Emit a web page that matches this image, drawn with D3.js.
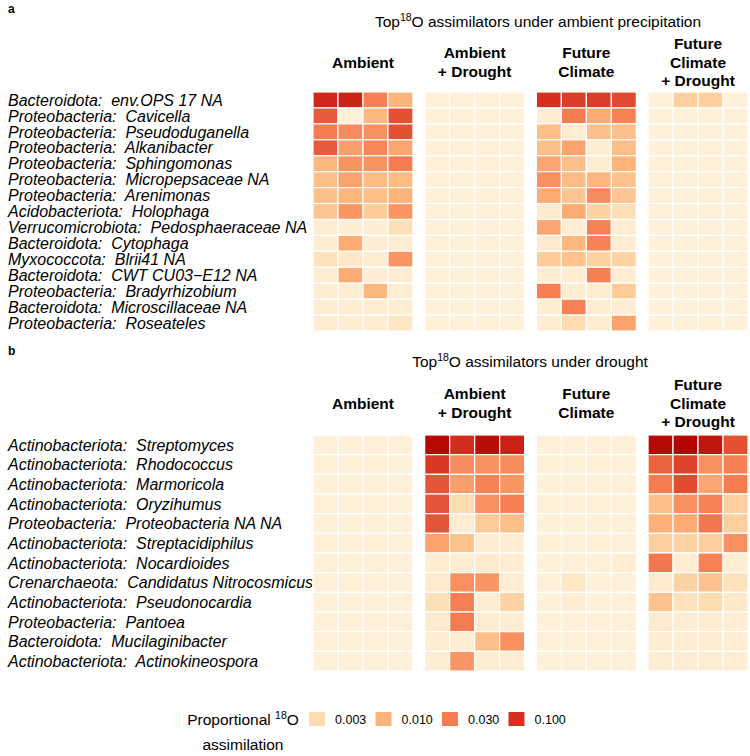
<!DOCTYPE html>
<html><head><meta charset="utf-8">
<script src="https://cdn.jsdelivr.net/npm/d3@7"></script>
<style>body{margin:0;background:#fff}text{font-family:"Liberation Sans",Arial,sans-serif}</style>
</head><body><svg id="c" width="750" height="756"></svg>
<script>
const treatments = ["Ambient", "Ambient + Drought", "Future Climate", "Future Climate + Drought"];
const headerLines = [["Ambient"], ["Ambient", "+ Drought"], ["Future", "Climate"], ["Future", "Climate", "+ Drought"]];
const reps = ["1", "2", "3", "4"];

const taxaA = [
 ["Bacteroidota", "env.OPS 17 NA"], ["Proteobacteria", "Cavicella"], ["Proteobacteria", "Pseudoduganella"],
 ["Proteobacteria", "Alkanibacter"], ["Proteobacteria", "Sphingomonas"], ["Proteobacteria", "Micropepsaceae NA"],
 ["Proteobacteria", "Arenimonas"], ["Acidobacteriota", "Holophaga"], ["Verrucomicrobiota", "Pedosphaeraceae NA"],
 ["Bacteroidota", "Cytophaga"], ["Myxococcota", "Blrii41 NA"], ["Bacteroidota", "CWT CU03\u2212E12 NA"],
 ["Proteobacteria", "Bradyrhizobium"], ["Bacteroidota", "Microscillaceae NA"], ["Proteobacteria", "Roseateles"]
];
const aAmbient = [
 [0.12,0.13,0.028,0.010],[0.05,0.001,0.009,0.06],[0.03,0.022,0.02,0.06],[0.05,0.015,0.024,0.013],
 [0.009,0.019,0.019,0.03],[0.007,0.014,0.008,0.008],[0.007,0.0095,0.0075,0.010],[0.006,0.018,0.005,0.018],
 [0.0012,0.0011,0.0011,0.0025],[0.0012,0.012,0.0011,0.0012],[0.0022,0.0016,0.0012,0.018],[0.0012,0.012,0.0011,0.0012],
 [0.0012,0.0012,0.009,0.0012],[0.0012,0.0012,0.0012,0.0012],[0.0012,0.0012,0.0012,0.0018]
];
const aAmbDrought = [
 [0.001,0.001,0.001,0.001],[0.001,0.001,0.001,0.001],[0.001,0.001,0.001,0.001],[0.001,0.001,0.001,0.001],
 [0.001,0.001,0.001,0.001],[0.001,0.001,0.001,0.001],[0.001,0.001,0.001,0.001],[0.001,0.001,0.001,0.001],
 [0.001,0.001,0.001,0.001],[0.001,0.001,0.001,0.001],[0.001,0.001,0.001,0.001],[0.001,0.001,0.001,0.001],
 [0.001,0.001,0.001,0.001],[0.001,0.001,0.001,0.001],[0.001,0.001,0.001,0.001]
];
const aFuture = [
 [0.10,0.08,0.08,0.065],[0.0012,0.03,0.012,0.026],[0.0075,0.0012,0.007,0.007],[0.007,0.014,0.0012,0.0075],
 [0.013,0.007,0.0012,0.010],[0.02,0.008,0.0095,0.0065],[0.012,0.006,0.022,0.006],[0.0013,0.012,0.004,0.0025],
 [0.013,0.0012,0.026,0.0012],[0.0013,0.009,0.026,0.0012],[0.005,0.0065,0.004,0.004],[0.0012,0.0012,0.028,0.0012],
 [0.028,0.0012,0.0012,0.005],[0.0012,0.026,0.0012,0.0012],[0.0012,0.003,0.0012,0.014]
];
const aFutureDrought = [
 [0.001,0.0045,0.0045,0.001],[0.001,0.001,0.001,0.001],[0.001,0.001,0.001,0.001],[0.001,0.001,0.001,0.001],
 [0.001,0.001,0.001,0.001],[0.001,0.001,0.001,0.001],[0.001,0.001,0.001,0.001],[0.001,0.001,0.001,0.001],
 [0.001,0.001,0.001,0.001],[0.001,0.001,0.001,0.001],[0.001,0.001,0.001,0.001],[0.001,0.001,0.001,0.001],
 [0.001,0.001,0.001,0.001],[0.001,0.001,0.001,0.001],[0.001,0.001,0.001,0.001]
];

const taxaB = [
 ["Actinobacteriota", "Streptomyces"], ["Actinobacteriota", "Rhodococcus"], ["Actinobacteriota", "Marmoricola"],
 ["Actinobacteriota", "Oryzihumus"], ["Proteobacteria", "Proteobacteria NA NA"], ["Actinobacteriota", "Streptacidiphilus"],
 ["Actinobacteriota", "Nocardioides"], ["Crenarchaeota", "Candidatus Nitrocosmicus"], ["Actinobacteriota", "Pseudonocardia"],
 ["Proteobacteria", "Pantoea"], ["Bacteroidota", "Mucilaginibacter"], ["Actinobacteriota", "Actinokineospora"]
];
const bAmbient = [
 [0.001,0.001,0.001,0.001],[0.001,0.001,0.001,0.001],[0.001,0.001,0.001,0.001],[0.001,0.001,0.001,0.001],
 [0.001,0.001,0.001,0.001],[0.001,0.001,0.001,0.001],[0.001,0.001,0.001,0.001],[0.001,0.001,0.001,0.001],
 [0.001,0.001,0.001,0.001],[0.001,0.001,0.001,0.001],[0.001,0.001,0.001,0.001],[0.001,0.001,0.001,0.001]
];
const bAmbDrought = [
 [0.25,0.11,0.22,0.14],[0.09,0.022,0.02,0.022],[0.055,0.015,0.026,0.018],[0.055,0.003,0.02,0.027],
 [0.055,0.0012,0.005,0.007],[0.014,0.0065,0.0012,0.0012],[0.0012,0.0012,0.0013,0.0012],[0.0013,0.02,0.018,0.0012],
 [0.0025,0.028,0.0012,0.004],[0.0013,0.03,0.0012,0.0012],[0.0012,0.0012,0.007,0.02],[0.0012,0.018,0.0012,0.0012]
];
const bFuture = [
 [0.001,0.001,0.001,0.001],[0.001,0.001,0.001,0.001],[0.001,0.001,0.001,0.001],[0.001,0.001,0.001,0.001],
 [0.001,0.001,0.001,0.001],[0.001,0.001,0.001,0.001],[0.001,0.001,0.001,0.0012],[0.001,0.0016,0.001,0.001],
 [0.001,0.0012,0.001,0.001],[0.001,0.001,0.001,0.001],[0.001,0.001,0.001,0.001],[0.001,0.001,0.001,0.001]
];
const bFutureDrought = [
 [0.25,0.27,0.18,0.06],[0.045,0.075,0.02,0.028],[0.03,0.065,0.013,0.03],[0.0075,0.02,0.026,0.0045],
 [0.011,0.012,0.032,0.0045],[0.0045,0.004,0.0045,0.02],[0.032,0.0012,0.026,0.0012],[0.0014,0.004,0.0065,0.0022],
 [0.0065,0.0022,0.003,0.0015],[0.0013,0.0012,0.0012,0.0012],[0.0012,0.0012,0.0012,0.0012],[0.0012,0.0012,0.0012,0.0012]
];

const legendValues = [0.003, 0.010, 0.030, 0.100];
const legendLabels = ["0.003", "0.010", "0.030", "0.100"];

const color = d3.scaleLog()
  .domain([0.001, 0.003, 0.01, 0.03, 0.1, 0.3])
  .range(["#FEF0D9", "#FDDDB0", "#FDB47A", "#F57B51", "#D5301F", "#B00000"])
  .interpolate(d3.interpolateRgb).clamp(true);

const svg = d3.select("#c");
const xT = d3.scaleBand().domain(treatments).range([313, 748]).paddingInner(0.105);
const xR = d3.scaleBand().domain(reps).range([0, xT.bandwidth()]);

function panel(cfg) {
  const g = svg.append("g");
  g.append("text").attr("x", 8).attr("y", cfg.letterY).attr("font-size", 12).attr("font-weight", "bold").text(cfg.letter);
  const t = g.append("text").attr("x", cfg.titleX).attr("y", cfg.titleY).attr("text-anchor", "middle").attr("font-size", 15.5);
  t.append("tspan").text("Top");
  t.append("tspan").attr("font-size", 10.5).attr("dy", -6).text("18");
  t.append("tspan").attr("dy", 6).text("O assimilators under " + cfg.titleTail);

  treatments.forEach((tr, i) => {
    const lines = headerLines[i];
    const cx = xT(tr) + xT.bandwidth() / 2;
    lines.forEach((ln, j) => {
      g.append("text").attr("x", cx)
        .attr("y", cfg.headerMid + (j - (lines.length - 1) / 2) * 18.5 + 5.5)
        .attr("text-anchor", "middle").attr("font-size", 15.5).attr("font-weight", "bold").text(ln);
    });
  });

  const y = d3.scaleBand().domain(cfg.taxa.map(d => d[1])).range(cfg.yRange);
  cfg.taxa.forEach((tx, r) => {
    g.append("text").attr("x", 8).attr("y", y(tx[1]) + y.bandwidth() / 2 + 5.7)
      .attr("font-size", 16).attr("font-style", "italic").style("white-space", "pre")
      .text(tx[0] + ":  " + tx[1]);
  });
  cfg.series.forEach((ser, i) => {
    const tr = treatments[i];
    ser.forEach((row, r) => {
      row.forEach((v, k) => {
        g.append("rect")
          .attr("x", xT(tr) + xR(reps[k])).attr("y", y(cfg.taxa[r][1]))
          .attr("width", xR.bandwidth()).attr("height", y.bandwidth())
          .attr("fill", color(v)).attr("stroke", "#fff").attr("stroke-width", 1.2);
      });
    });
  });
}

panel({letter: "a", letterY: 13, titleX: 538, titleY: 27, titleTail: "ambient precipitation",
  headerMid: 62, taxa: taxaA, yRange: [92, 331], series: [aAmbient, aAmbDrought, aFuture, aFutureDrought]});
panel({letter: "b", letterY: 355, titleX: 530, titleY: 367, titleTail: "drought",
  headerMid: 403, taxa: taxaB, yRange: [435, 671], series: [bAmbient, bAmbDrought, bFuture, bFutureDrought]});

// legend
const lg = svg.append("g");
const lt = lg.append("text").attr("x", 243).attr("y", 725).attr("text-anchor", "middle").attr("font-size", 15.5);
lt.append("tspan").text("Proportional ");
lt.append("tspan").attr("font-size", 10.5).attr("dy", -6).text("18");
lt.append("tspan").attr("dy", 6).text("O");
lg.append("text").attr("x", 243).attr("y", 750).attr("text-anchor", "middle").attr("font-size", 15.5).text("assimilation");
const lx = d3.scaleBand().domain(legendLabels).range([309, 575]);
legendValues.forEach((v, i) => {
  const x0 = lx(legendLabels[i]);
  lg.append("rect").attr("x", x0).attr("y", 712).attr("width", 16).attr("height", 14).attr("fill", color(v));
  lg.append("text").attr("x", x0 + 26).attr("y", 724).attr("font-size", 12.5).text(legendLabels[i]);
});
</script></body></html>
